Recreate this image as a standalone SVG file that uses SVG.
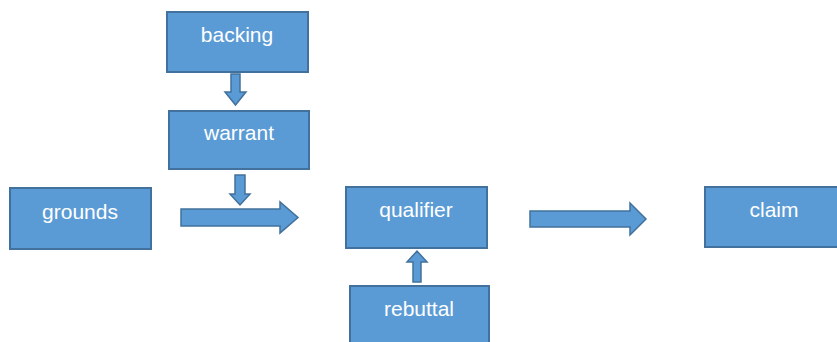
<svg xmlns="http://www.w3.org/2000/svg" width="837" height="342" viewBox="0 0 837 342">
<style>
.box{fill:#5b9bd5;stroke:#41719c;stroke-width:2}
.arr{fill:#5b9bd5;stroke:#41719c;stroke-width:1.5;stroke-linejoin:miter}
.lbl{fill:#ffffff;font-family:"Liberation Sans",Arial,sans-serif;font-size:21px;text-anchor:middle}
</style>
<rect width="837" height="342" fill="#ffffff"/>
<g id="backing"><rect class="box" x="167" y="12" width="141" height="60"/><text class="lbl" x="237" y="42">backing</text></g>
<g id="warrant"><rect class="box" x="169" y="111" width="140" height="58"/><text class="lbl" x="239" y="140">warrant</text></g>
<g id="grounds"><rect class="box" x="10" y="188" width="141" height="61"/><text class="lbl" x="80" y="219">grounds</text></g>
<g id="qualifier"><rect class="box" x="346" y="187" width="141" height="61"/><text class="lbl" x="416" y="217">qualifier</text></g>
<g id="rebuttal"><rect class="box" x="350" y="286" width="139" height="62"/><text class="lbl" x="419" y="316">rebuttal</text></g>
<g id="claim"><rect class="box" x="705" y="187" width="140" height="60"/><text class="lbl" x="774" y="217">claim</text></g>
<g id="connectors">
<polygon class="arr" points="231,74 240,74 240,92 246,92 235.5,105 225,92 231,92"/>
<polygon class="arr" points="235,175 245,175 245,194 250,194 240,205 230,194 235,194"/>
<polygon class="arr" points="181,209 280,209 280,202 298,217.5 280,233 280,226 181,226"/>
<polygon class="arr" points="530,211 630,211 630,203 646,219 630,235 630,227 530,227"/>
<polygon class="arr" points="413,282 421,282 421,262 427,262 417,251 407,262 413,262"/>
</g>
</svg>
